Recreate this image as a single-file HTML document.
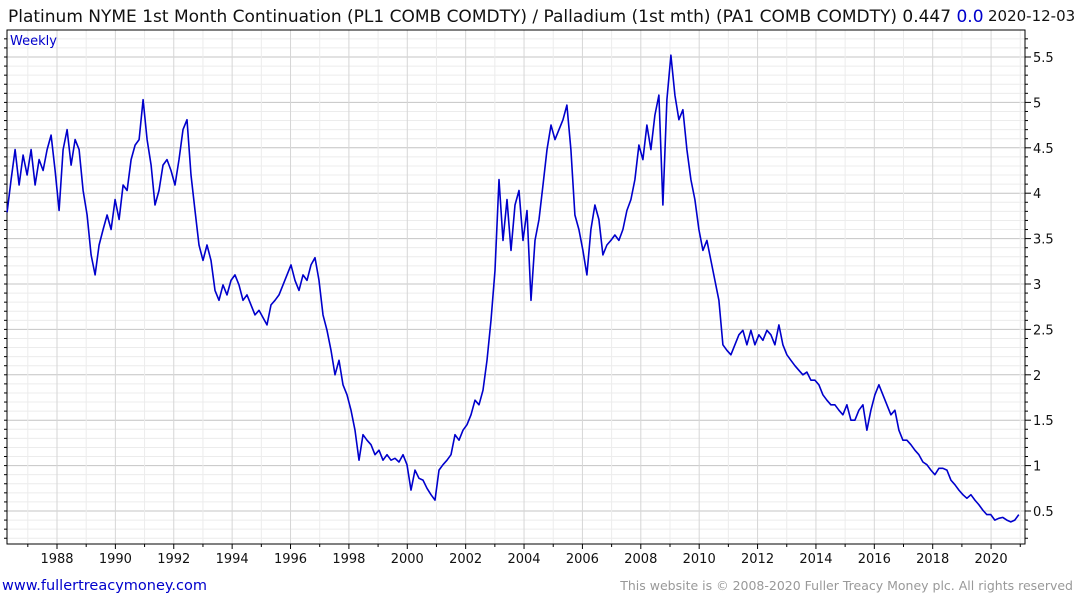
<!DOCTYPE html>
<html><head><meta charset="utf-8">
<style>
body{margin:0;width:1075px;height:600px;background:#fff;overflow:hidden;font-family:"DejaVu Sans","Liberation Sans",sans-serif;}
svg{display:block}
</style></head>
<body>
<svg id="chart" width="1075" height="600" xmlns="http://www.w3.org/2000/svg">
<text x="8" y="22" font-size="17" fill="#111" font-family="DejaVu Sans, sans-serif">Platinum NYME 1st Month Continuation (PL1 COMB COMDTY) / Palladium (1st mth)  (PA1 COMB COMDTY) 0.447 <tspan fill="#0000cc">0.0</tspan></text>
<rect x="985" y="4" width="90" height="22" fill="#fff"/>
<text x="988" y="21" font-size="15" fill="#111">2020-12-03</text>
<g id="grid"></g>
<rect x="7" y="30" width="1018" height="514" fill="none" stroke="#000" stroke-width="1"/>
<text x="10" y="45" font-size="13" fill="#0000cc">Weekly</text>
<g id="axes"></g>
<path id="line" fill="none" stroke="#0000cc" stroke-width="1.6" stroke-linejoin="round"/>
<text x="2" y="590" font-size="14.5" fill="#0000cc">www.fullertreacymoney.com</text>
<text x="1073" y="590" font-size="12.5" fill="#999" text-anchor="end">This website is © 2008-2020 Fuller Treacy Money plc. All rights reserved</text>
</svg>
<script>
const startYear = 1986.29;
const stepYears = 0.137;
const values = [3.79,4.15,4.48,4.09,4.42,4.2,4.48,4.09,4.37,4.25,4.48,4.64,4.25,3.81,4.48,4.7,4.31,4.59,4.48,4.03,3.76,3.32,3.1,3.43,3.6,3.76,3.6,3.93,3.71,4.09,4.03,4.37,4.53,4.59,5.03,4.59,4.31,3.87,4.03,4.31,4.37,4.25,4.09,4.37,4.7,4.81,4.2,3.81,3.43,3.26,3.43,3.26,2.93,2.82,2.99,2.88,3.04,3.1,2.99,2.82,2.88,2.77,2.66,2.71,2.63,2.55,2.77,2.82,2.88,2.99,3.1,3.21,3.04,2.93,3.1,3.04,3.21,3.29,3.04,2.66,2.49,2.27,2.0,2.16,1.89,1.78,1.61,1.39,1.06,1.34,1.28,1.23,1.12,1.17,1.06,1.12,1.06,1.08,1.04,1.12,1.01,0.73,0.95,0.86,0.84,0.75,0.68,0.62,0.95,1.01,1.06,1.12,1.34,1.28,1.39,1.45,1.56,1.72,1.67,1.83,2.16,2.6,3.15,4.15,3.48,3.93,3.37,3.87,4.03,3.48,3.81,2.82,3.48,3.71,4.09,4.48,4.75,4.59,4.7,4.81,4.97,4.48,3.76,3.6,3.37,3.1,3.6,3.87,3.71,3.32,3.43,3.48,3.54,3.48,3.6,3.81,3.93,4.15,4.53,4.37,4.75,4.48,4.86,5.08,3.87,5.03,5.52,5.08,4.81,4.92,4.48,4.15,3.93,3.6,3.37,3.48,3.26,3.04,2.82,2.33,2.27,2.22,2.33,2.44,2.49,2.33,2.49,2.33,2.44,2.38,2.49,2.44,2.33,2.55,2.33,2.22,2.16,2.1,2.05,2.0,2.03,1.94,1.94,1.89,1.78,1.72,1.67,1.67,1.61,1.56,1.67,1.5,1.5,1.61,1.67,1.39,1.61,1.78,1.89,1.78,1.67,1.56,1.61,1.39,1.28,1.28,1.23,1.17,1.12,1.04,1.01,0.95,0.9,0.97,0.97,0.95,0.84,0.79,0.73,0.68,0.64,0.68,0.62,0.57,0.51,0.46,0.46,0.4,0.42,0.43,0.4,0.38,0.4,0.46];
const yTicks = [0.5,1,1.5,2,2.5,3,3.5,4,4.5,5,5.5];
const yTickLabels = ["0.5","1","1.5","2","2.5","3","3.5","4","4.5","5","5.5"];
const xTicks = [1988,1990,1992,1994,1996,1998,2000,2002,2004,2006,2008,2010,2012,2014,2016,2018,2020];

const L=7,R=1025,T=30,B=544;
function y(v){return 511-(v-0.5)*90.8;}
function x(yr){return 57+(yr-1988)*29.19;}
const NS="http://www.w3.org/2000/svg";
const grid=document.getElementById('grid'), axes=document.getElementById('axes');
function ln(p,x1,y1,x2,y2,c,w){const l=document.createElementNS(NS,'line');l.setAttribute('x1',x1);l.setAttribute('y1',y1);l.setAttribute('x2',x2);l.setAttribute('y2',y2);l.setAttribute('stroke',c);l.setAttribute('stroke-width',w);p.appendChild(l);return l;}
for(let v=0.2;v<=5.8;v+=0.1){const yy=y(v);if(yy<T||yy>B)continue;
 const major=Math.abs(v*2-Math.round(v*2))<1e-6;
 const g=ln(grid,L,yy,R,yy,major?'#c4c4c4':'#ececec',1);
 
 
 const t=ln(axes,R,yy,R+(major?6:3),yy,'#000',1);
 
 
 const t2=ln(axes,L-3,yy,L,yy,'#000',1);
 
 
}
for(let yr=1987;yr<=2021;yr++){const xx=x(yr);if(xx<L||xx>R)continue;
 const g=ln(grid,xx,T,xx,B,yr%2===0?'#d6d6d6':'#ececec',1);
 
 
 const t=ln(axes,xx,B,xx,B+(yr%2===0?5:3),'#000',1);
 
 
}
yTicks.forEach((v,i)=>{const t=document.createElementNS(NS,'text');t.setAttribute('x',1033);t.setAttribute('y',y(v)+5);t.setAttribute('font-size','13');t.setAttribute('fill','#111');t.textContent=yTickLabels[i];
 
 
 axes.appendChild(t);});
xTicks.forEach(yr=>{const t=document.createElementNS(NS,'text');t.setAttribute('x',x(yr));t.setAttribute('y',563);t.setAttribute('font-size','13');t.setAttribute('fill','#111');t.setAttribute('text-anchor','middle');t.textContent=yr;
 
 
 axes.appendChild(t);});
let d='';values.forEach((v,i)=>{d+=(i?'L':'M')+x(startYear+i*stepYears).toFixed(1)+','+y(v).toFixed(1);});
document.getElementById('line').setAttribute('d',d);
</script>
</body></html>
